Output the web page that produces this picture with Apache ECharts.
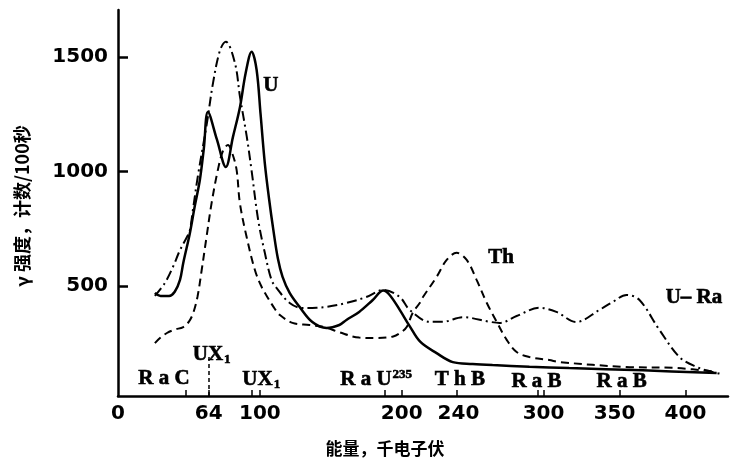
<!DOCTYPE html>
<html><head><meta charset="utf-8">
<script src="https://cdn.jsdelivr.net/npm/echarts@6/dist/echarts.min.js"></script>
<style>html,body{margin:0;padding:0;background:#fff}#c{width:733px;height:459px}</style>
</head><body><div id="c"></div>
<script>
// ---- data (energy in keV, counts per 100 s) ----
const uEnergy = [26,30,36,40,43.7,46,50.7,54,57.7,60.5,63.4,69.7,76,81,86,90,94.2,97.7,100.5,103.5,106.5,109.5,112.7,116,121,128,137,147,156,161,170,179.6,187,191.5,198.6,205.6,213,224.6,236,250,264,290,318,370,422];
const uCounts = [470,457,457,475,527,601,732,845,963,1100,1260,1140,1020,1150,1282,1430,1523,1444,1250,1036,880,745,620,540,470,409,343,317,330,352,387,439,480,461,396,325,257,207,168,160,155,148,142,132,120];

const thEnergy = [26,30,34.5,40,46,50,53,56,59,62.4,66,70.4,74,77.5,80.5,83.6,85.9,90.6,96.5,101.2,105.8,110.6,114,123,135,146,156,170,182,194,200,203.5,207.7,212.7,215,224.6,231.7,238.7,245.8,252.8,260,267,274,281,290,304,311,358,394,422];
const thCounts = [251,275,295,310,321,345,382,452,570,714,863,1007,1090,1116,1080,1007,863,716,570,497,447,400,374,339,330,320,298,275,273,280,300,321,382,426,452,540,614,645,614,527,426,343,265,212,190,177,168,147,142,125];

const uraEnergy = [26,33,38.7,43.7,48.6,50.7,52.8,56.3,62.7,67,72,76,82.4,86,90.8,94.1,98.8,103.5,108.2,112,121,130,140,147,161,175,187,198.6,205.6,219.7,229,243,262,269,281,297,309,323,339.4,348.6,358.5,367.6,381.7,395.8,407.7,419,424];
const uraCounts = [457,513,583,657,714,745,832,980,1212,1387,1531,1566,1474,1326,1151,1007,789,645,527,490,426,404,405,409,426,452,483,452,396,344,344,364,344,339,369,405,387,343,396,430,461,439,308,190,147,125,118];

// tick labels / marks
const xTickLabels = [0,64,100,200,240,300,350,400];
const xTickMarks = [48,64,94,100,188,200,239,296,300,354,400];
const yTickLabels = [500,1000,1500];

// annotations: text, energy, counts
const annoText = ['U','Th','U\u2013 Ra','R a C','{m|UX}{sb|1}','{m|UX}{sb|1}','{m|R a U}{sp|235}','T h B','R a B','R a B'];
const annoX = [107.7,270,406,32.4,66,101,182,241,295,355];
const annoY = [1374,623,448,94,199,90,90,90,81,81];
const line64 = [64, 20, 190];

const zip = (a,b)=>a.map((v,i)=>[v,b[i]]);
const chart = echarts.init(document.getElementById('c'));
const txt = {fontFamily:'Liberation Serif',fontWeight:'bold',color:'#000',textBorderColor:'#000',textBorderWidth:0.6};
const richStyle = {
  m:Object.assign({fontSize:21},txt),
  sb:Object.assign({fontSize:13,padding:[10,0,0,1]},txt),
  sp:Object.assign({fontSize:13,padding:[0,0,10,1]},txt)
};
chart.setOption({
  backgroundColor:'#fff',
  animation:false,
  grid:{left:118,right:5,top:10,bottom:63},
  xAxis:{type:'value',min:0,max:430,
    axisLine:{lineStyle:{color:'#000',width:2.5}},
    axisTick:{show:true,inside:true,length:6,customValues:xTickMarks,lineStyle:{color:'#000',width:1.5}},
    axisLabel:{customValues:xTickLabels,color:'#000',fontFamily:'DejaVu Sans',fontWeight:'bold',fontSize:20,margin:8,
      formatter:v=>String(v)},
    splitLine:{show:false}},
  yAxis:{type:'value',min:20,max:1705,
    axisLine:{show:true,lineStyle:{color:'#000',width:2.5}},
    axisTick:{show:true,inside:true,length:10,customValues:yTickLabels,lineStyle:{color:'#000',width:2.5}},
    axisLabel:{customValues:yTickLabels,color:'#000',fontFamily:'DejaVu Sans',fontWeight:'bold',fontSize:20,margin:10,
      formatter:v=>String(v)},
    splitLine:{show:false}},
  graphic:[
    {type:'text',x:22,y:206,rotation:Math.PI/2,
     style:{text:'γ 强度，计数/100秒',font:'bold 18px "Noto Sans CJK SC"',fill:'#000',align:'center',verticalAlign:'middle'}},
    {type:'text',x:385,y:449,
     style:{text:'能量，千电子伏',font:'bold 17px "Noto Sans CJK SC"',fill:'#000',align:'center',verticalAlign:'middle'}}
  ],
  series:[
    {name:'U',type:'line',data:zip(uEnergy,uCounts),smooth:0.35,symbol:'none',
     lineStyle:{color:'#000',width:2.5}},
    {name:'Th',type:'line',data:zip(thEnergy,thCounts),smooth:0.35,symbol:'none',
     lineStyle:{color:'#000',width:2,type:[8,5]}},
    {name:'U-Ra',type:'line',data:zip(uraEnergy,uraCounts),smooth:0.35,symbol:'none',
     lineStyle:{color:'#000',width:2,type:[10,4,2,4]}},
    {type:'scatter',symbolSize:0,silent:true,z:10,itemStyle:{opacity:1,color:'#000'},
     data:annoText.map((t,i)=>({value:[annoX[i],annoY[i]],label:{formatter:t}})),
     label:Object.assign({show:true,position:'inside',opacity:1,fontSize:21,rich:richStyle},txt),
     markLine:{silent:true,symbol:'none',label:{show:false},lineStyle:{color:'#000',type:[4,3],width:1.5,opacity:1},
       data:[[{coord:[line64[0],line64[1]]},{coord:[line64[0],line64[2]]}]]}}
  ]
});
</script></body></html>
